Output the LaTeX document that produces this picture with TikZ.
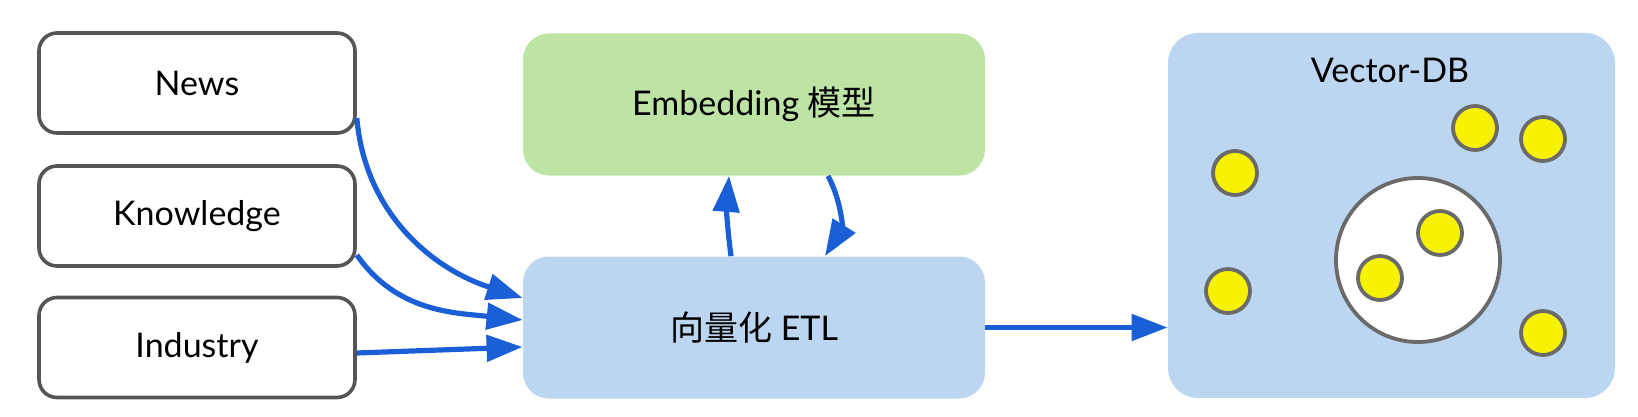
\documentclass[tikz,border=0pt]{standalone}
\usepackage{fontspec}
\setmainfont{Lato}
\newfontfamily\cjk{Noto Sans CJK SC}
\usetikzlibrary{arrows.meta}

\definecolor{boxgray}{HTML}{555555}
\definecolor{embgreen}{HTML}{BDE3A5}
\definecolor{etlblue}{HTML}{BCD5F0}
\definecolor{arrowblue}{HTML}{1B5FD6}
\definecolor{dotyellow}{HTML}{F7F200}
\definecolor{dotgray}{HTML}{6A6A6A}

\begin{document}
\begin{tikzpicture}[x=0.5pt,y=-0.5pt,
    srcbox/.style={draw=boxgray, line width=1.8pt, rounded corners=9pt, fill=white,
        minimum width=158pt, minimum height=50pt, font=\fontsize{17}{20}\selectfont},
    fillbox/.style={rounded corners=13pt, minimum width=231pt, minimum height=71pt,
        font=\fontsize{17}{20}\selectfont},
    flow/.style={draw=arrowblue, line width=2.6pt, -{Triangle[length=18pt,width=13pt]}},
    vecdot/.style={fill=dotyellow, draw=dotgray, line width=1.9pt}
]

    \useasboundingbox (0,0) rectangle (1638,417);

    % Data sources
    \node[srcbox] (News) at (197,83) {News};
    \node[srcbox] (Know) at (197,216) {Knowledge};
    \node[srcbox] (Indu) at (197,347.5) {Industry};

    % Embedding model and ETL
    \node[fillbox, fill=embgreen] (Emb) at (754,104.5) {Embedding {\cjk 模型}};
    \node[fillbox, fill=etlblue] (ETL) at (754,327.5) {{\cjk 向量化} ETL};

    % Vector database
    \node[fill=etlblue, rounded corners=15pt, minimum width=223.5pt, minimum height=182.5pt] (DB) at (1391.5,215.5) {};
    \node[font=\fontsize{17}{20}\selectfont] (DBlabel) at (1390,70) {Vector-DB};

    % Arrows into ETL
    \draw[flow] ([yshift=-17.5pt]News.east) to[out=-85,in=162] ([yshift=14.75pt]ETL.west);
    \draw[flow] ([yshift=-19.5pt]Know.east) to[out=-55,in=174] ([yshift=3.75pt]ETL.west);
    \draw[flow] ([yshift=-2.75pt]Indu.east) -- ([yshift=-9.75pt]ETL.west);

    % ETL <-> Embedding
    \draw[flow] ([xshift=-11.5pt]ETL.north) to[bend left=6] ([xshift=-12.5pt]Emb.south);
    \draw[flow] ([xshift=37pt]Emb.south) to[bend left=30] ([xshift=35.5pt]ETL.north);

    % ETL -> Vector-DB
    \draw[flow] (ETL.east) -- (ETL.east -| DB.west);

    % Vectors
    \fill[white, draw=dotgray, line width=1.9pt] (1418,260) circle (82);
    \filldraw[vecdot] (1235,173) circle (22);
    \filldraw[vecdot] (1228,291) circle (22);
    \filldraw[vecdot] (1475,128) circle (22);
    \filldraw[vecdot] (1543,139) circle (22);
    \filldraw[vecdot] (1543,333) circle (22);
    \filldraw[vecdot] (1440,233) circle (22);
    \filldraw[vecdot] (1380,278) circle (22);

\end{tikzpicture}
\end{document}
